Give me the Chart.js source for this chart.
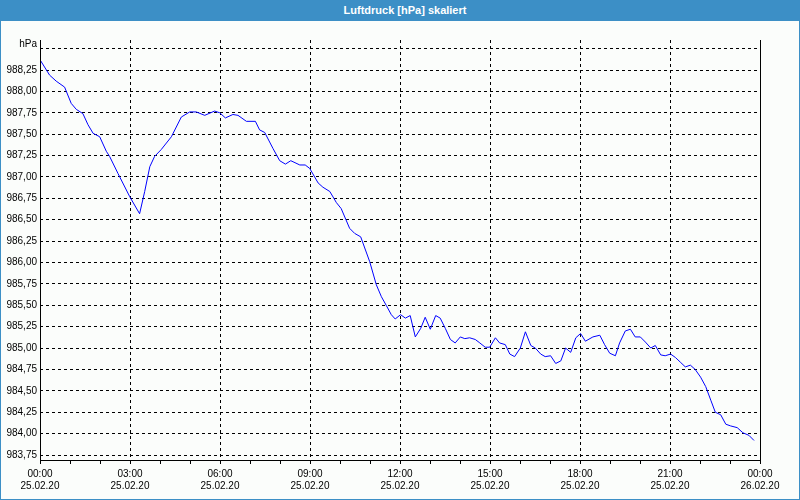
<!DOCTYPE html>
<html>
<head>
<meta charset="utf-8">
<script src="https://cdn.jsdelivr.net/npm/chart.js@4/dist/chart.umd.min.js"></script>
<style>
  html, body { margin: 0; padding: 0; background: #ffffff; }
  #wrap { position: relative; width: 800px; height: 500px; box-sizing: border-box;
          border: 1px solid #3c8fc6; border-top: none; background: #fbfdfb; }
  #title { height: 21px; background: #3c8fc6; color: #ffffff; text-align: center;
           font: bold 11px "Liberation Sans", Arial, sans-serif; line-height: 20px; padding-left: 10px; box-sizing: border-box; }
  #unit { position: absolute; left: 0; top: 38px; width: 36px; text-align: right;
          font: 10px "Liberation Sans", Arial, sans-serif; color: #000; }
  canvas { display: block; }
</style>
</head>
<body>
<div id="wrap">
  <div id="title">Luftdruck [hPa] skaliert</div>
  <div id="unit">hPa</div>
  <canvas id="c" width="798" height="478"></canvas>
</div>
<script>
// Time in hours since 25.02.20 00:00
const hours = [0.00,0.32,0.54,0.82,1.04,1.21,1.43,1.60,1.77,1.99,2.21,2.32,2.60,2.99,3.32,3.49,3.66,3.82,4.04,4.38,
  4.71,4.99,5.21,5.49,5.82,5.99,6.18,6.43,6.60,6.88,7.18,7.32,7.49,7.77,7.99,8.18,8.36,8.66,8.84,8.99,
  9.27,9.43,9.66,9.88,10.04,10.32,10.49,10.69,10.99,11.21,11.38,11.54,11.71,11.84,12.02,12.18,12.34,12.51,12.69,12.84,
  13.01,13.19,13.34,13.51,13.68,13.84,14.01,14.16,14.32,14.51,14.66,14.84,14.99,15.18,15.32,15.51,15.66,15.82,16.01,16.18,
  16.36,16.51,16.69,16.84,17.02,17.19,17.36,17.52,17.69,17.86,18.02,18.18,18.43,18.66,18.82,18.99,19.18,19.32,19.51,19.68,
  19.84,20.01,20.18,20.36,20.51,20.69,20.84,21.02,21.18,21.36,21.51,21.68,21.84,22.02,22.19,22.36,22.51,22.69,22.86,23.02,
  23.24,23.43,23.63,23.80];
const pressure = [988.37,988.19,988.12,988.05,987.86,987.79,987.74,987.61,987.51,987.47,987.30,987.24,987.04,986.77,986.57,986.83,987.12,987.24,987.32,987.47,
  987.70,987.76,987.76,987.72,987.77,987.75,987.69,987.73,987.72,987.65,987.65,987.55,987.52,987.33,987.19,987.15,987.19,987.14,987.14,987.10,
  986.93,986.88,986.83,986.70,986.63,986.40,986.34,986.30,986.01,985.74,985.60,985.50,985.39,985.34,985.39,985.35,985.38,985.13,985.23,985.36,
  985.22,985.38,985.35,985.23,985.10,985.06,985.13,985.11,985.12,985.10,985.06,985.01,985.01,985.12,985.06,985.04,984.93,984.90,985.00,985.19,
  985.03,985.00,984.93,984.90,984.91,984.82,984.85,985.00,984.95,985.12,985.17,985.08,985.13,985.15,985.04,984.94,984.91,985.06,985.20,985.22,
  985.13,985.13,985.07,985.00,985.03,984.92,984.91,984.93,984.89,984.83,984.78,984.80,984.75,984.66,984.55,984.39,984.25,984.22,984.11,984.09,
  984.07,984.01,983.98,983.92];
const xTickTimes = ['00:00','03:00','06:00','09:00','12:00','15:00','18:00','21:00','00:00'];
const xTickDates = ['25.02.20','25.02.20','25.02.20','25.02.20','25.02.20','25.02.20','25.02.20','25.02.20','26.02.20'];
const yTicks = [983.75,984.00,984.25,984.50,984.75,985.00,985.25,985.50,985.75,986.00,986.25,986.50,986.75,987.00,987.25,987.50,987.75,988.00,988.25,988.50];
const yLabeled = yTicks.slice(0, yTicks.length - 1);

const points = hours.map((h, i) => ({ x: h, y: pressure[i] }));
const font = { family: '"Liberation Sans", Arial, sans-serif', size: 10 };

const frame = {
  id: 'frame',
  afterDraw(chart) {
    const { ctx, chartArea } = chart;
    const l = Math.round(chartArea.left) + 0.5;
    const r = Math.round(chartArea.right) + 0.5;
    const b = Math.round(chartArea.bottom) + 0.5;
    ctx.save();
    ctx.setLineDash([]);
    ctx.strokeStyle = '#000';
    ctx.lineWidth = 1;
    ctx.beginPath();
    ctx.moveTo(l, chartArea.top);
    ctx.lineTo(l, b);
    ctx.lineTo(r, b);
    ctx.lineTo(r, chartArea.top);
    ctx.stroke();
    ctx.restore();
  }
};

new Chart(document.getElementById('c'), {
  type: 'line',
  data: {
    datasets: [{
      data: points,
      borderColor: '#0000ff',
      borderWidth: 1,
      pointRadius: 0,
      tension: 0,
      fill: false
    }]
  },
  options: {
    responsive: false,
    animation: false,
    events: [],
    layout: { padding: { top: 19, right: 39, left: 0, bottom: 0 } },
    plugins: { legend: { display: false }, tooltip: { enabled: false }, title: { display: false } },
    scales: {
      x: {
        type: 'linear',
        min: 0, max: 24,
        afterBuildTicks(scale) {
          const t = [];
          for (let h = 0; h <= 24; h++) t.push({ value: h });
          scale.ticks = t;
        },
        afterFit(scale) { scale.height = 39; },
        grid: {
          color: (ctx) => (ctx.tick && ctx.tick.value % 3 === 0) ? '#000' : 'rgba(0,0,0,0)',
          tickColor: '#000',
          tickLength: 4,
          lineWidth: 1
        },
        border: { display: false, color: '#000', width: 1, dash: [3, 3] },
        ticks: {
          autoSkip: false,
          maxRotation: 0,
          padding: 4,
          color: '#000',
          font: font,
          callback: (v) => (v % 3 === 0) ? [xTickTimes[v / 3], xTickDates[v / 3]] : ''
        }
      },
      y: {
        type: 'linear',
        min: 983.6916, max: 988.6007,
        afterBuildTicks(scale) { scale.ticks = yTicks.map(v => ({ value: v })); },
        afterFit(scale) { scale.width = 39; },
        grid: { color: '#000', drawTicks: false, lineWidth: 1 },
        border: { display: false, color: '#000', width: 1, dash: [3, 3] },
        ticks: {
          padding: 3,
          color: '#000',
          font: font,
          callback: (v) => yLabeled.includes(v) ? v.toFixed(2).replace('.', ',') : ''
        }
      }
    }
  },
  plugins: [frame]
});
</script>
</body>
</html>
